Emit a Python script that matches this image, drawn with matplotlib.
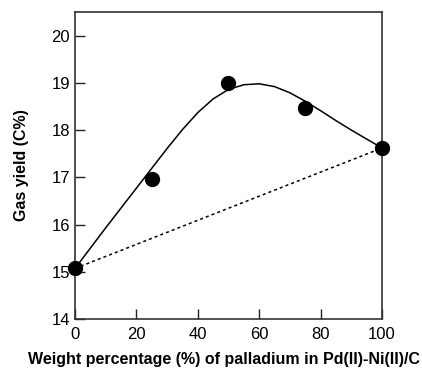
import matplotlib
matplotlib.use("Agg")
import matplotlib.pyplot as plt

# measured points
pd_pct = [0, 25, 50, 75, 100]
gas_yield = [15.07, 16.97, 19.0, 18.47, 17.62]

# smooth trend curve
curve_x = [0, 5, 10, 15, 20, 25, 30, 35, 40, 45, 50, 55, 60, 65, 70, 75, 80, 85, 90, 95, 100]
curve_y = [15.07, 15.50, 15.93, 16.35, 16.77, 17.19, 17.61, 18.01, 18.37, 18.66, 18.86, 18.96,
           18.98, 18.92, 18.79, 18.61, 18.41, 18.20, 18.00, 17.81, 17.62]

# straight line between the pure catalysts
line_x = [0, 100]
line_y = [15.07, 17.62]

plt.rcParams['font.family'] = ['Liberation Sans', 'DejaVu Sans']

fig = plt.figure(figsize=(4.22, 3.69), dpi=100)
ax = fig.add_axes([0.1777, 0.1355, 0.7275, 0.832])

ax.plot(curve_x, curve_y, color='black', lw=1.1)
ax.plot(line_x, line_y, color='black', lw=1.1, linestyle=(0, (2, 2)))
ax.plot(pd_pct, gas_yield, 'o', color='black', markersize=10, clip_on=False, zorder=5)

ax.set_xlim(0, 100)
ax.set_ylim(14, 20.5)
ax.set_xticks([0, 20, 40, 60, 80, 100])
ax.set_yticks([14, 15, 16, 17, 18, 19, 20])
ax.tick_params(direction='in', length=7, width=1, labelsize=12, colors='#222222', labelcolor='black')
ax.tick_params(axis='x', pad=6)
for s in ax.spines.values():
    s.set_linewidth(1.2)
    s.set_color('#333333')

ax.set_xlabel('Weight percentage (%) of palladium in Pd(II)-Ni(II)/C', fontsize=11.5, fontweight='bold')
ax.set_ylabel('Gas yield (C%)', fontsize=11.5, fontweight='bold')
ax.xaxis.set_label_coords(0.484, -0.107)
ax.yaxis.set_label_coords(-0.15, 0.5)

fig.savefig('out.png', dpi=100)
